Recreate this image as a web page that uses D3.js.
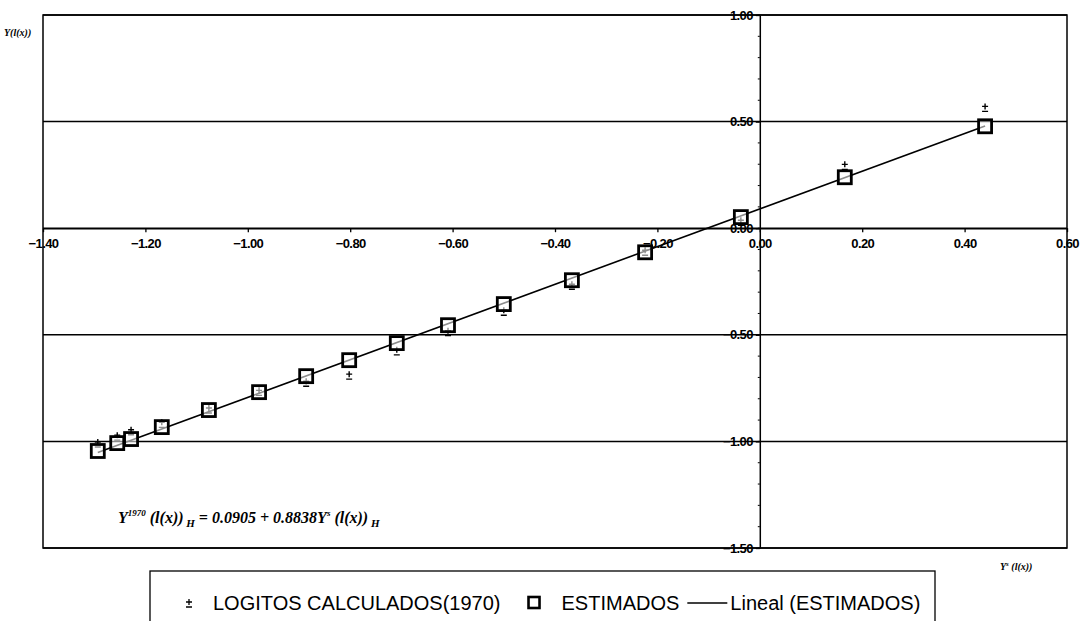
<!DOCTYPE html>
<html>
<head>
<meta charset="utf-8">
<script src="https://cdn.jsdelivr.net/npm/d3@7"></script>
<style>
  html, body { margin: 0; padding: 0; background: #fff; }
  svg { display: block; }
</style>
</head>
<body>
<svg id="chart" width="1087" height="621"></svg>
<script>
// Y^s(l(x)) values and the estimated logits
const xValues = [-1.293, -1.255, -1.228, -1.168, -1.076, -0.978, -0.886, -0.802, -0.709, -0.609, -0.500, -0.367, -0.224, -0.037, 0.166, 0.440];
const estimados = [-1.045, -1.008, -0.989, -0.933, -0.853, -0.769, -0.694, -0.619, -0.539, -0.455, -0.356, -0.244, -0.113, 0.052, 0.239, 0.478];
// logits calculated from the 1970 data
const logitos1970 = [-1.012, -0.980, -0.955, -0.920, -0.853, -0.770, -0.727, -0.694, -0.580, -0.490, -0.394, -0.272, -0.113, 0.028, 0.290, 0.562];
// linear fit coefficients
const intercept = 0.0905;
const slope = 0.8838;
const xTicks = [-1.4, -1.2, -1.0, -0.8, -0.6, -0.4, -0.2, 0.0, 0.2, 0.4, 0.6];
const yTicks = [1.0, 0.5, 0.0, -0.5, -1.0, -1.5];
const legendLabels = ["LOGITOS CALCULADOS(1970)", "ESTIMADOS", "Lineal (ESTIMADOS)"];

const svg = d3.select("#chart");
const x = d3.scaleLinear().domain([-1.4, 0.6]).range([43, 1067]);
const y = d3.scaleLinear().domain([-1.5, 1.0]).range([548, 15]);
const fmt = d3.format(".2f");
const sans = "Liberation Sans, Arial, sans-serif";
const serif = "Liberation Serif, Times New Roman, serif";

// plot frame
svg.append("rect")
  .attr("x", x(-1.4)).attr("y", y(1.0))
  .attr("width", x(0.6) - x(-1.4)).attr("height", y(-1.5) - y(1.0))
  .attr("fill", "none").attr("stroke", "#000").attr("stroke-width", 1.5);

// horizontal grid lines
svg.append("g").selectAll("line")
  .data(yTicks)
  .join("line")
  .attr("x1", x(-1.4)).attr("x2", x(0.6))
  .attr("y1", d => y(d)).attr("y2", d => y(d))
  .attr("stroke", "#000").attr("stroke-width", 1.5);

// x axis through y = 0
const xAxis = svg.append("g")
  .attr("transform", `translate(0,${y(0)})`)
  .call(d3.axisBottom(x).tickValues(xTicks).tickSize(4).tickSizeOuter(0).tickFormat(fmt));
xAxis.select(".domain").attr("stroke", "#000").attr("stroke-width", 1.5);
xAxis.selectAll(".tick line").attr("stroke", "#000").attr("stroke-width", 1.3);
xAxis.selectAll(".tick text")
  .attr("dy", "1.05em").attr("y", 6)
  .attr("font-family", sans)
  .attr("font-weight", "bold").attr("font-size", 13).attr("fill", "#000")
  .attr("letter-spacing", "-0.6");

// y axis through x = 0
const yAxis = svg.append("g")
  .attr("transform", `translate(${x(0)},0)`)
  .call(d3.axisLeft(y).tickValues(yTicks).tickSize(4).tickSizeOuter(0).tickFormat(fmt));
yAxis.select(".domain").attr("stroke", "#000").attr("stroke-width", 1.5);
yAxis.selectAll(".tick line").attr("stroke", "#000").attr("stroke-width", 1.3);
yAxis.selectAll(".tick text")
  .attr("x", -7)
  .attr("font-family", sans)
  .attr("font-weight", "bold").attr("font-size", 13).attr("fill", "#000")
  .attr("letter-spacing", "-0.6");

// minor ticks along the y axis
svg.append("g").selectAll("line")
  .data(d3.range(-1.5, 1.0001, 0.1))
  .join("line")
  .attr("x1", x(0) - 2).attr("x2", x(0))
  .attr("y1", d => y(d)).attr("y2", d => y(d))
  .attr("stroke", "#000").attr("stroke-width", 1);

// fitted line
const xmin = d3.min(xValues), xmax = d3.max(xValues);
svg.append("line")
  .attr("x1", x(xmin)).attr("y1", y(intercept + slope * xmin))
  .attr("x2", x(xmax)).attr("y2", y(intercept + slope * xmax))
  .attr("stroke", "#000").attr("stroke-width", 1.6);

// calculated logits: small plus/minus glyphs
const pm = d3.path();
pm.moveTo(-3, -2); pm.lineTo(3, -2);
pm.moveTo(0, -5); pm.lineTo(0, 1);
pm.moveTo(-3, 3); pm.lineTo(3, 3);
svg.append("g").selectAll("path")
  .data(xValues.map((v, i) => [v, logitos1970[i]]))
  .join("path")
  .attr("transform", d => `translate(${x(d[0])},${y(d[1])})`)
  .attr("d", pm.toString())
  .attr("fill", "none").attr("stroke", "#000").attr("stroke-width", 1.4);

// estimated values: open squares
svg.append("g").selectAll("rect")
  .data(xValues.map((v, i) => [v, estimados[i]]))
  .join("rect")
  .attr("x", d => x(d[0]) - 6.5).attr("y", d => y(d[1]) - 6.5)
  .attr("width", 13).attr("height", 13)
  .attr("fill", "#fff").attr("fill-opacity", 0.55)
  .attr("stroke", "#000").attr("stroke-width", 2.8);

// axis titles
const yt = svg.append("text")
  .attr("x", 4).attr("y", 36)
  .attr("font-family", serif).attr("font-style", "italic").attr("font-weight", "bold")
  .attr("font-size", 10).attr("fill", "#000");
yt.append("tspan").text("Y(l(x))");

const xt = svg.append("text")
  .attr("x", 1000).attr("y", 570)
  .attr("font-family", serif).attr("font-style", "italic").attr("font-weight", "bold")
  .attr("font-size", 10).attr("fill", "#000");
xt.append("tspan").text("Y");
xt.append("tspan").attr("dy", -4).attr("font-size", 7).text("s");
xt.append("tspan").attr("dy", 4).text(" (l(x))");

// regression equation
const eq = svg.append("text")
  .attr("x", 118).attr("y", 523)
  .attr("font-family", serif).attr("font-style", "italic").attr("font-weight", "bold")
  .attr("font-size", 16).attr("fill", "#000");
eq.append("tspan").text("Y");
eq.append("tspan").attr("dy", -7).attr("font-size", 9).text("1970");
eq.append("tspan").attr("dy", 7).text(" (l(x))");
eq.append("tspan").attr("dy", 4).attr("font-size", 11).text(" H");
eq.append("tspan").attr("dy", -4).text("  =  " + intercept.toFixed(4) + " + " + slope.toFixed(4) + "Y");
eq.append("tspan").attr("dy", -7).attr("font-size", 9).text("s");
eq.append("tspan").attr("dy", 7).text(" (l(x))");
eq.append("tspan").attr("dy", 4).attr("font-size", 11).text(" H");

// legend, laid out left to right from measured text widths
const lg = svg.append("g");
lg.append("rect")
  .attr("x", 150).attr("y", 571).attr("width", 785).attr("height", 60)
  .attr("fill", "#fff").attr("stroke", "#000").attr("stroke-width", 1.3);
const baseY = 610, midY = 603;
let cx = 185;
lg.append("path")
  .attr("transform", `translate(${cx + 4},${midY + 1})`)
  .attr("d", pm.toString())
  .attr("fill", "none").attr("stroke", "#000").attr("stroke-width", 1.3);
cx += 28;
const t1 = lg.append("text").attr("x", cx).attr("y", baseY)
  .attr("font-family", sans).attr("font-size", 20).attr("fill", "#000")
  .text(legendLabels[0]);
cx += t1.node().getComputedTextLength() + 28;
lg.append("rect")
  .attr("x", cx).attr("y", midY - 6).attr("width", 11).attr("height", 11)
  .attr("fill", "#fff").attr("stroke", "#000").attr("stroke-width", 2.6);
cx += 33;
const t2 = lg.append("text").attr("x", cx).attr("y", baseY)
  .attr("font-family", sans).attr("font-size", 20).attr("fill", "#000")
  .text(legendLabels[1]);
cx += t2.node().getComputedTextLength() + 8;
lg.append("line")
  .attr("x1", cx).attr("x2", cx + 40).attr("y1", midY).attr("y2", midY)
  .attr("stroke", "#000").attr("stroke-width", 1.4);
cx += 43;
lg.append("text").attr("x", cx).attr("y", baseY)
  .attr("font-family", sans).attr("font-size", 20).attr("fill", "#000")
  .text(legendLabels[2]);
</script>
</body>
</html>
